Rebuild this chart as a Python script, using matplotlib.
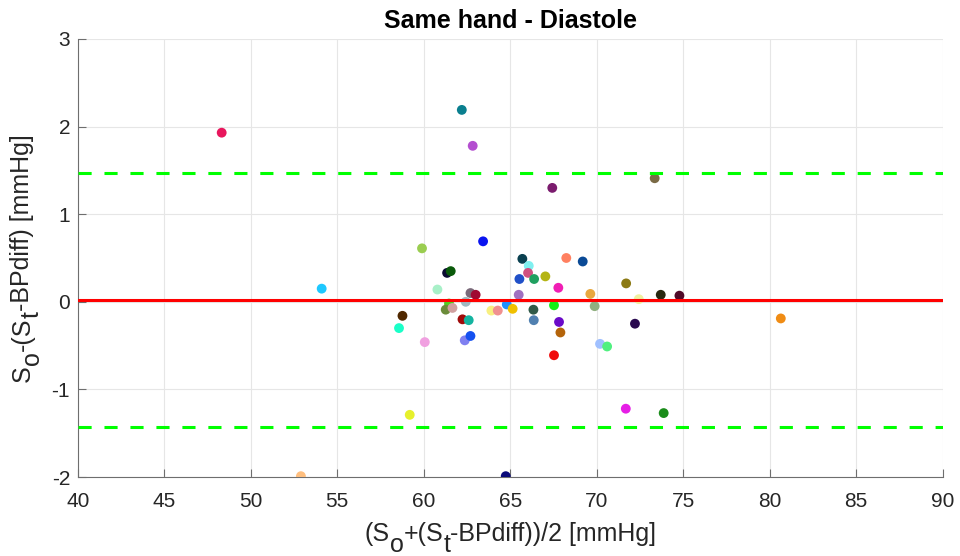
import matplotlib
matplotlib.use('Agg')
import matplotlib.pyplot as plt
from matplotlib.transforms import IdentityTransform

# mean of the two methods [mmHg]
x_mean = [48.32, 62.2, 62.83, 67.43, 73.35, 54.1, 59.19, 52.9, 64.74, 71.68,
          73.87, 80.64, 59.9, 63.43, 61.35, 61.56, 60.79, 62.7, 63.0, 61.46,
          61.27, 61.66, 62.43, 58.77, 58.57, 62.24, 62.6, 60.06, 62.37, 62.7,
          63.91, 64.28, 64.8, 65.14, 65.49, 65.53, 65.7, 66.07, 66.03, 66.38,
          67.03, 66.34, 66.36, 67.53, 67.78, 67.82, 67.9, 67.53, 68.24, 69.19,
          69.63, 69.88, 71.7, 72.43, 72.21, 73.7, 74.78, 70.19, 70.6]
# difference [mmHg]
y_diff = [1.93, 2.19, 1.78, 1.30, 1.41, 0.15, -1.29, -1.99, -1.99, -1.22,
          -1.27, -0.19, 0.61, 0.69, 0.33, 0.35, 0.14, 0.10, 0.08, -0.02,
          -0.09, -0.07, 0.00, -0.16, -0.30, -0.20, -0.21, -0.46, -0.44, -0.39,
          -0.10, -0.10, -0.03, -0.08, 0.08, 0.26, 0.49, 0.41, 0.33, 0.26,
          0.29, -0.09, -0.21, -0.04, 0.16, -0.23, -0.35, -0.61, 0.50, 0.46,
          0.09, -0.05, 0.21, 0.03, -0.25, 0.08, 0.07, -0.48, -0.51]
point_colors = ['#e8175d', '#0a7f8f', '#b44fd0', '#7b1c6e', '#7a6a45', '#1ec8ff', '#e6f02c', '#ffbf7f', '#0a0a7a', '#e61ee6',
                '#1a8c1a', '#f08c14', '#9acd50', '#0a14f0', '#0a0a32', '#0a5a0a', '#a8f0c8', '#7a6a7a', '#a00a32', '#50d020',
                '#6b8c3a', '#d0a0a0', '#a0b8c0', '#502800', '#1affc8', '#a00a0a', '#14b4a0', '#f0a0e0', '#8080f0', '#1450f0',
                '#f8f080', '#f09090', '#1e90ff', '#f0c000', '#a070c0', '#2050c8', '#0a4050', '#80f0f0', '#d05080', '#20a060',
                '#b4b414', '#305a48', '#5080b0', '#14f014', '#f01eb4', '#6a0ac8', '#b4640a', '#f00a0a', '#ff8060', '#0a4a96',
                '#e8a840', '#90b080', '#8c7a14', '#f0f0a0', '#2a0a50', '#282810', '#500a28', '#a0c0ff', '#50f080']

bias = 0.02
loa_upper = 1.47
loa_lower = -1.43

# label pieces: (text, is_subscript)
xlabel_parts = [('(S', False), ('o', True), ('+(S', False), ('t', True), ('-BPdiff))/2 [mmHg]', False)]
ylabel_parts = [('S', False), ('o', True), ('-(S', False), ('t', True), ('-BPdiff) [mmHg]', False)]

plt.rcParams['font.family'] = ['Liberation Sans', 'DejaVu Sans']
plt.rcParams['axes.unicode_minus'] = False

W, H = 960, 556
fig = plt.figure(figsize=(W / 100, H / 100), dpi=100)
ax = fig.add_axes([0.081, 0.142, 0.901, 0.788])

ax.scatter(x_mean, y_diff, s=50, c=point_colors, edgecolors='none', zorder=3)
ax.axhline(bias, color='#ff0000', lw=2.2, zorder=4)
ax.axhline(loa_upper, color='#00ff00', lw=2.2, linestyle=(0, (4.3, 4.2)), zorder=4)
ax.axhline(loa_lower, color='#00ff00', lw=2.2, linestyle=(0, (4.3, 4.2)), zorder=4)

ax.set_xlim(40, 90)
ax.set_ylim(-2, 3)
ax.set_xticks(range(40, 91, 5))
ax.set_yticks(range(-2, 4))
ax.grid(True, color='#e6e6e6', lw=0.8, zorder=0)
ax.set_axisbelow(True)

for s in ['top', 'right']:
    ax.spines[s].set_visible(False)
for s in ['left', 'bottom']:
    ax.spines[s].set_color('#6e6e6e')
    ax.spines[s].set_linewidth(0.8)
ax.tick_params(direction='in', length=5.8, width=0.8, color='#6e6e6e',
               labelcolor='#262626', labelsize=15)
ax.tick_params(axis='x', pad=11)
ax.tick_params(axis='y', pad=5.5)

ax.set_title('Same hand - Diastole', fontsize=18, fontweight='bold', pad=8)


def rich_label(parts, center, base, sub_drop, vertical, size=18):
    # MATLAB style label: subscripts are full size, just shifted down
    renderer = fig.canvas.get_renderer()
    widths = []
    for txt, _ in parts:
        t = fig.text(0, 0, txt, fontsize=size, transform=IdentityTransform())
        widths.append(t.get_window_extent(renderer).width)
        t.remove()
    pos = center - sum(widths) / 2
    for (txt, sub), w in zip(parts, widths):
        off = sub_drop if sub else 0
        if vertical:
            xy = (base + off, pos)
        else:
            xy = (pos, base - off)
        fig.text(xy[0], xy[1], txt, fontsize=size, color='#262626',
                 rotation=90 if vertical else 0, rotation_mode='anchor',
                 ha='left', va='baseline', transform=IdentityTransform())
        pos += w


ax_box = ax.get_position()
x_center = (ax_box.x0 + ax_box.x1) / 2 * W
y_center = (ax_box.y0 + ax_box.y1) / 2 * H
rich_label(xlabel_parts, x_center, H - 541.5, 10.5, False)
rich_label(ylabel_parts, y_center, 29.5, 9.5, True)

fig.savefig('out.png', dpi=100)
